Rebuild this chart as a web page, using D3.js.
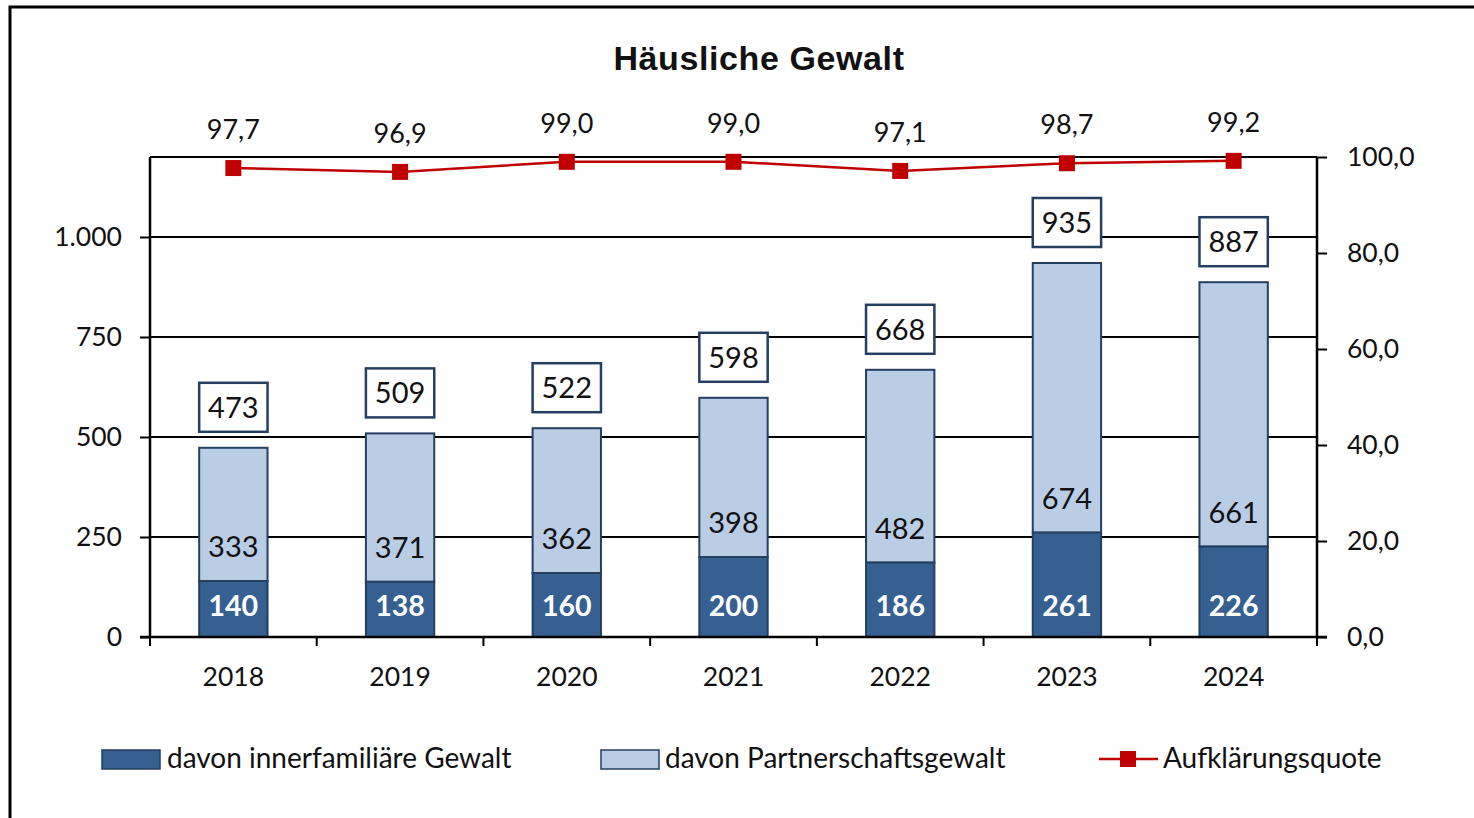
<!DOCTYPE html>
<html>
<head>
<meta charset="utf-8">
<script src="https://cdn.jsdelivr.net/npm/d3@7"></script>
<style>
  body { margin: 0; background: #fff; }
  text { font-family: Lato, "Open Sans", sans-serif; fill: #111; }
</style>
</head>
<body>
<div id="chart"></div>
<script>
var years = ["2018", "2019", "2020", "2021", "2022", "2023", "2024"];
var innerfamiliaer = [140, 138, 160, 200, 186, 261, 226];
var partnerschaft = [333, 371, 362, 398, 482, 674, 661];
var gesamt = [473, 509, 522, 598, 668, 935, 887];
var quote = [97.7, 96.9, 99.0, 99.0, 97.1, 98.7, 99.2];
var leftTicks = [0, 250, 500, 750, 1000];
var rightTicks = [0, 20, 40, 60, 80, 100];

var width = 1474, height = 818,
	margin = {top: 157, right: 157, bottom: 181, left: 150};

var darkBlue = "#376092", lightBlue = "#b9cde5", navy = "#243f60", red = "#c00000";

var svg = d3.select("#chart").append("svg")
	.attr("width", width)
	.attr("height", height);

// frame
svg.append("rect")
	.attr("x", 10).attr("y", 7)
	.attr("width", 1480).attr("height", 830)
	.attr("fill", "none").attr("stroke", "#000").attr("stroke-width", 3);

var x = d3.scaleBand()
	.domain(years)
	.range([margin.left, width - margin.right])
	.paddingInner(0.59).paddingOuter(0.295);

var band = d3.scaleBand().domain(years).range([margin.left, width - margin.right]);

var y = d3.scaleLinear().domain([0, 1200]).range([height - margin.bottom, margin.top]);
var y2 = d3.scaleLinear().domain([0, 100]).range([height - margin.bottom, margin.top]);

var fmt1 = function(v){ return d3.format(".1f")(v).replace(".", ","); };
var fmtK = function(v){ return d3.format(",")(v).replace(/,/g, "."); };

// title
svg.append("text")
	.attr("x", 759).attr("y", 70)
	.attr("text-anchor", "middle")
	.style("font-family", "'Liberation Sans', Arial, sans-serif")
	.style("font-size", "34px").style("font-weight", "bold")
	.style("letter-spacing", "0.6px")
	.text("Häusliche Gewalt");

// gridlines
svg.append("g").selectAll("line")
	.data(leftTicks.slice(1)).enter()
	.append("line")
	.attr("x1", margin.left).attr("x2", width - margin.right)
	.attr("y1", function(d){ return y(d); }).attr("y2", function(d){ return y(d); })
	.attr("stroke", "#000").attr("stroke-width", 2);

// top border of plot
svg.append("line")
	.attr("x1", margin.left).attr("x2", width - margin.right)
	.attr("y1", margin.top).attr("y2", margin.top)
	.attr("stroke", "#000").attr("stroke-width", 2);

// bars
var bars = svg.append("g");
years.forEach(function(yr, i){
	bars.append("rect")
		.attr("x", x(yr)).attr("width", x.bandwidth())
		.attr("y", y(innerfamiliaer[i] + partnerschaft[i]))
		.attr("height", y(innerfamiliaer[i]) - y(innerfamiliaer[i] + partnerschaft[i]))
		.attr("fill", lightBlue).attr("stroke", navy).attr("stroke-width", 2);
	bars.append("rect")
		.attr("x", x(yr)).attr("width", x.bandwidth())
		.attr("y", y(innerfamiliaer[i]))
		.attr("height", y(0) - y(innerfamiliaer[i]))
		.attr("fill", darkBlue).attr("stroke", navy).attr("stroke-width", 2);
});

// axes
var axisLeft = d3.axisLeft(y).tickValues(leftTicks).tickSize(10).tickPadding(18).tickFormat(fmtK);
var gL = svg.append("g").attr("transform", "translate(" + margin.left + ",0)").call(axisLeft);
var axisRight = d3.axisRight(y2).tickValues(rightTicks).tickSize(10).tickPadding(20).tickFormat(fmt1);
var gR = svg.append("g").attr("transform", "translate(" + (width - margin.right) + ",0)").call(axisRight);
var axisBottom = d3.axisBottom(band).tickSize(0).tickPadding(30);
var gB = svg.append("g").attr("transform", "translate(0," + y(0) + ")").call(axisBottom);

[gL, gR, gB].forEach(function(g){
	g.select(".domain").attr("stroke", "#000").attr("stroke-width", 2.5);
	g.selectAll(".tick line").attr("stroke", "#000").attr("stroke-width", 2);
	g.selectAll(".tick text").style("font-size", "26.5px").attr("fill", "#111")
		.style("font-family", "Lato, 'Open Sans', sans-serif");
});
gB.select(".domain").attr("d", "M" + margin.left + ",0H" + (width - margin.right));
gL.select(".domain").attr("d", "M-10," + y(0) + "H0V" + margin.top);
gR.select(".domain").attr("d", "M0," + margin.top + "V" + y(0) + "H10");

// bottom category dividers
svg.append("g").selectAll("line")
	.data(years.concat(["end"])).enter()
	.append("line")
	.attr("x1", function(d, i){ return margin.left + i * band.bandwidth(); })
	.attr("x2", function(d, i){ return margin.left + i * band.bandwidth(); })
	.attr("y1", y(0)).attr("y2", y(0) + 9)
	.attr("stroke", "#000").attr("stroke-width", 2);

// bar labels
var labels = svg.append("g");
years.forEach(function(yr, i){
	var cx = x(yr) + x.bandwidth() / 2;
	labels.append("text")
		.attr("x", cx).attr("y", y(0) - 21)
		.attr("text-anchor", "middle")
		.style("font-size", "28.5px").style("font-weight", "bold")
		.style("fill", "#fff")
		.text(innerfamiliaer[i]);
	labels.append("text")
		.attr("x", cx).attr("y", y(innerfamiliaer[i]) - 24)
		.attr("text-anchor", "middle")
		.style("font-size", "29px")
		.text(partnerschaft[i]);
	var top = y(gesamt[i]);
	labels.append("rect")
		.attr("x", x(yr)).attr("width", x.bandwidth())
		.attr("y", top - 65).attr("height", 49)
		.attr("fill", "#fff").attr("stroke", navy).attr("stroke-width", 2.5);
	labels.append("text")
		.attr("x", cx).attr("y", top - 30)
		.attr("text-anchor", "middle")
		.style("font-size", "29px")
		.text(gesamt[i]);
});

// line
var lineGen = d3.line()
	.x(function(d, i){ return band(years[i]) + band.bandwidth() / 2; })
	.y(function(d){ return y2(d); });
svg.append("path")
	.datum(quote)
	.attr("d", lineGen)
	.attr("fill", "none").attr("stroke", red).attr("stroke-width", 2.5);
svg.append("g").selectAll("rect")
	.data(quote).enter()
	.append("rect")
	.attr("x", function(d, i){ return band(years[i]) + band.bandwidth() / 2 - 8; })
	.attr("y", function(d){ return y2(d) - 8; })
	.attr("width", 16).attr("height", 16)
	.attr("fill", red);
svg.append("g").selectAll("text")
	.data(quote).enter()
	.append("text")
	.attr("x", function(d, i){ return band(years[i]) + band.bandwidth() / 2; })
	.attr("y", function(d){ return y2(d) - 29; })
	.attr("text-anchor", "middle")
	.style("font-size", "27px")
	.text(fmt1);

// legend
var legend = svg.append("g");
legend.append("rect").attr("x", 102).attr("y", 750).attr("width", 58).attr("height", 19)
	.attr("fill", darkBlue).attr("stroke", navy).attr("stroke-width", 1.5);
legend.append("text").attr("x", 167).attr("y", 768).style("font-size", "28px")
	.text("davon innerfamiliäre Gewalt");
legend.append("rect").attr("x", 601).attr("y", 750).attr("width", 58).attr("height", 19)
	.attr("fill", lightBlue).attr("stroke", navy).attr("stroke-width", 1.5);
legend.append("text").attr("x", 665).attr("y", 768).style("font-size", "28px")
	.text("davon Partnerschaftsgewalt");
legend.append("line").attr("x1", 1099).attr("x2", 1158).attr("y1", 759).attr("y2", 759)
	.attr("stroke", red).attr("stroke-width", 2.5);
legend.append("rect").attr("x", 1120).attr("y", 751).attr("width", 16).attr("height", 16)
	.attr("fill", red);
legend.append("text").attr("x", 1163).attr("y", 768).style("font-size", "28px")
	.text("Aufklärungsquote");
</script>
</body>
</html>
